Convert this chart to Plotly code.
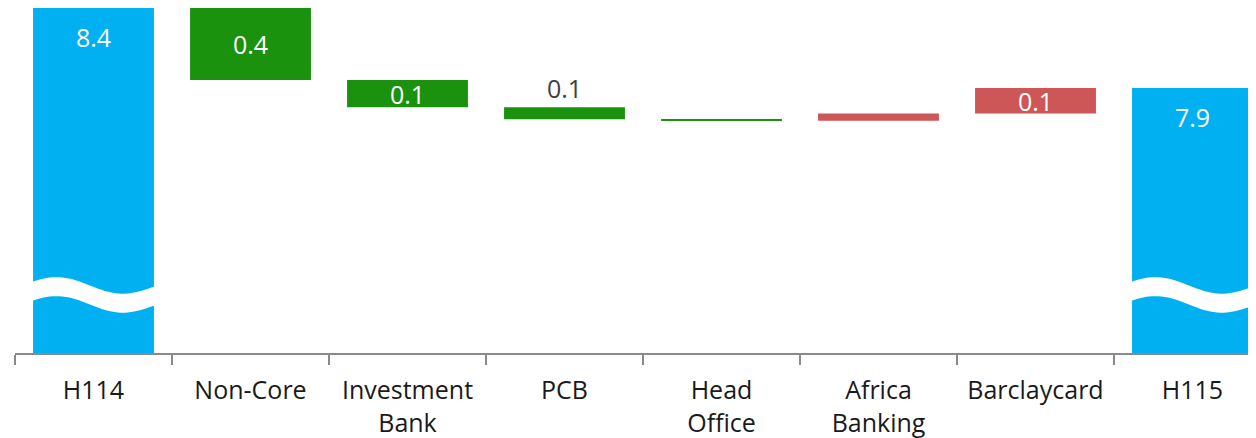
import numpy as np
import plotly.graph_objects as go

# Data
categories = ["H114", "Non-Core", "Investment<br>Bank", "PCB", "Head<br>Office",
              "Africa<br>Banking", "Barclaycard", "H115"]
values = [8.4, -0.45, -0.17, -0.075, -0.01, 0.045, 0.16, 0]
measures = ["absolute", "relative", "relative", "relative", "relative",
            "relative", "relative", "total"]
labels = ["8.4", "0.4", "0.1", "0.1", "", "", "0.1", "7.9"]

BLUE = "#00B0F0"
GREEN = "#1A920E"
RED = "#CD5756"
FONT = "Open Sans"

# page has an 8px body margin, so the figure is a bit smaller than the window
OFF = 8
W, H = 1256 - OFF, 438 - OFF
MB = 85
y_hi = 8.4
px_per_unit = 160
y_lo = y_hi - (H - MB) / px_per_unit
bar_w = 0.77

fig = go.Figure()
fig.add_trace(go.Waterfall(
    x=categories,
    y=values,
    measure=measures,
    width=bar_w,
    increasing=dict(marker=dict(color=RED)),
    decreasing=dict(marker=dict(color=GREEN)),
    totals=dict(marker=dict(color=BLUE)),
    connector=dict(visible=False),
    hoverinfo="skip",
))

# label placement from running totals
run = 0
for i, (cat, v, m, lab) in enumerate(zip(categories, values, measures, labels)):
    if m == "absolute":
        lo, hi = 0, v
        run = v
    elif m == "total":
        lo, hi = 0, run
    else:
        lo, hi = sorted([run, run + v])
        run += v
    if not lab:
        continue
    if m in ("absolute", "total"):
        fig.add_annotation(x=cat, y=hi, text=lab, showarrow=False, yanchor="top",
                           yshift=-10, font=dict(family=FONT, size=25, color="white"))
    elif (hi - lo) * px_per_unit > 20:
        fig.add_annotation(x=cat, y=(hi + lo) / 2, text=lab, showarrow=False,
                           yanchor="middle", font=dict(family=FONT, size=25, color="white"))
    else:
        fig.add_annotation(x=cat, y=hi, text=lab, showarrow=False, yanchor="bottom",
                           yshift=0, font=dict(family=FONT, size=25, color="#404040"))

# axis break wave on the total bars (page pixel rows -> data values)
def px_to_val(ypx):
    return y_hi - (ypx - OFF) / px_per_unit

t = np.linspace(0, 1, 40)
top = 285.5 - 7.5 * np.cos(2 * np.pi * (t - 0.22)) + 3 * (t - 0.5)
bot = top + 19
for i, m in enumerate(measures):
    if m not in ("absolute", "total"):
        continue
    xs = i - bar_w / 2 - 0.02 + t * (bar_w + 0.04)
    pts = [f"{x:.4f},{px_to_val(y):.4f}" for x, y in zip(xs, top)]
    pts += [f"{x:.4f},{px_to_val(y):.4f}" for x, y in zip(xs[::-1], bot[::-1])]
    fig.add_shape(type="path", xref="x", yref="y", path="M" + " L".join(pts) + " Z",
                  fillcolor="white", line=dict(width=0), layer="above")

fig.update_layout(
    width=W, height=H,
    margin=dict(l=15 - OFF, r=0, t=0, b=MB),
    plot_bgcolor="white", paper_bgcolor="white",
    showlegend=False,
    font=dict(family=FONT, size=25, color="#1a1a1a"),
    xaxis=dict(
        type="category",
        range=[-0.5, -0.5 + (1256 - 15) / 157],
        showline=True, linecolor="#8a8a8a", linewidth=2,
        ticks="outside", tickson="boundaries", ticklen=10,
        tickcolor="#8a8a8a", tickwidth=1.5,
        ticklabelstandoff=14,
        showgrid=False,
        tickfont=dict(family=FONT, size=25, color="#1a1a1a"),
    ),
    yaxis=dict(range=[y_lo, y_hi], visible=False, showgrid=False, zeroline=False),
)

fig.write_html("out.html")
